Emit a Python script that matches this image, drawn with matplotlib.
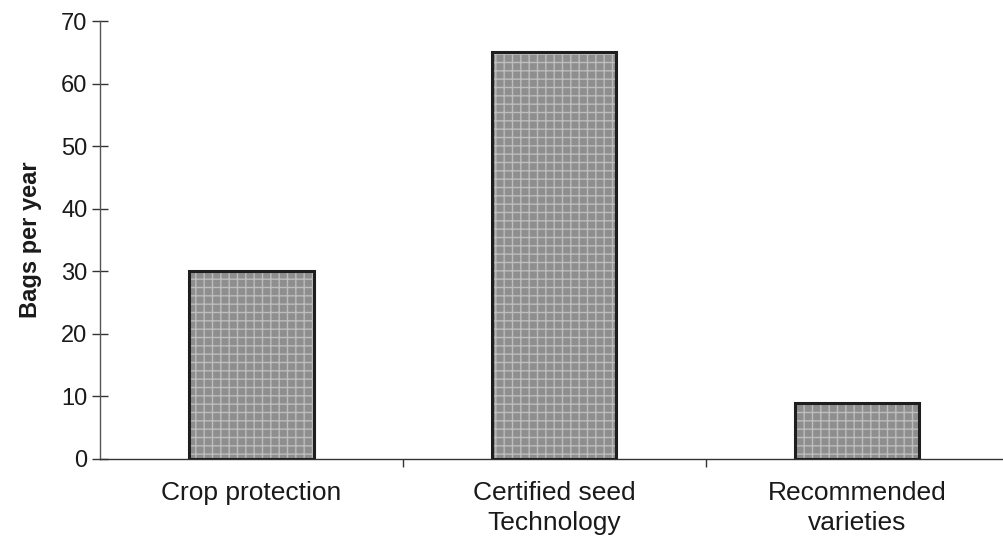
import matplotlib
matplotlib.use('Agg')
import matplotlib.pyplot as plt
import numpy as np

categories = ['Crop protection', 'Certified seed\nTechnology', 'Recommended\nvarieties']
bags = [30, 65, 9]

plt.rcParams['font.family'] = ['Liberation Sans', 'DejaVu Sans']

fig = plt.figure(figsize=(10.04, 5.36), dpi=100)
ax = fig.add_axes([0.0996, 0.1437, 0.905, 0.817])

x = np.arange(len(categories))
# textured grey fill, then the dark outline on top
ax.bar(x, bags, width=0.41, color='#8e8e8e', edgecolor='#bdbdbd', hatch='++', linewidth=0, zorder=2)
ax.bar(x, bags, width=0.41, facecolor='none', edgecolor='#1e1e1e', linewidth=2.2, zorder=3)

ax.set_xlim(-0.5, 2.5)
ax.set_ylim(0, 70)
ax.set_yticks(range(0, 71, 10))
ax.set_xticks([0.5, 1.5])
ax.set_xticklabels([])
for xi, lab in zip(x, categories):
    ax.text(xi, -3.6, lab, ha='center', va='top', fontsize=19, color='#1a1a1a', linespacing=1.3)

for s in ['top', 'right']:
    ax.spines[s].set_visible(False)
ax.spines['left'].set_color('#555555')
ax.spines['bottom'].set_color('#333333')
ax.spines['left'].set_linewidth(1.0)
ax.spines['bottom'].set_linewidth(1.0)

ax.tick_params(axis='y', direction='inout', length=12, width=1, colors='#333333', labelsize=17, pad=3)
ax.tick_params(axis='x', direction='out', length=6, width=1, colors='#333333')
for t in ax.get_yticklabels():
    t.set_color('#1a1a1a')

ax.set_ylabel('Bags per year', fontsize=17, fontweight='bold', color='#1a1a1a', labelpad=14)

fig.savefig('out.png', dpi=100)
